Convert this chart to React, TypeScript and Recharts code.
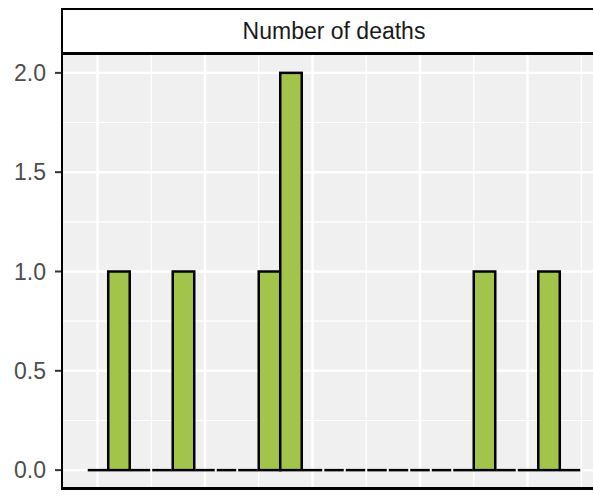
import { ComposedChart, Bar, XAxis, YAxis, CartesianGrid } from 'recharts'

// histogram bins (index along the x scale) and counts per bin
const bins = [0, 1, 2, 3, 4, 5, 6, 7, 8, 9, 10, 11, 12, 13, 14, 15, 16, 17, 18, 19, 20, 21, 22]
const deaths = [0, 1, 0, 0, 1, 0, 0, 0, 1, 2, 0, 0, 0, 0, 0, 0, 0, 0, 1, 0, 0, 1, 0]

const yTicks = [0, 0.5, 1, 1.5, 2]
const yMinor = [0.25, 0.75, 1.25, 1.75]
const xMajor = [0, 5, 10, 15, 20]
const xMinor = [2.5, 7.5, 12.5, 17.5, 22.5]

const data = bins.map((b, i) => ({ bin: b, deaths: deaths[i] }))

const FONT = '"Liberation Sans", Arial, sans-serif'
const FILL = '#A3C44A'

const BinShape = (props: any) => {
  const { x, y, width, height } = props
  if (!height) {
    return <line x1={x + 1} x2={x + width - 1} y1={y} y2={y} stroke="#000" strokeWidth={2.5} />
  }
  return <rect x={x} y={y} width={width} height={height} fill={FILL} stroke="#000" strokeWidth={2.5} />
}

export default function App() {
  return (
    <div style={{ position: 'relative', width: 593, height: 497, overflow: 'hidden', background: '#fff' }}>
      <style>{'body{margin:0;overflow:hidden}'}</style>
      <ComposedChart width={640} height={497} data={data}
        margin={{ top: 53, right: 34, bottom: 7, left: 0 }}>
        <CartesianGrid fill="#F0F0F0" stroke="#fff" strokeWidth={1.2}
          horizontalValues={yMinor} verticalValues={xMinor} />
        <CartesianGrid stroke="#fff" strokeWidth={2.4}
          horizontalValues={yTicks} verticalValues={xMajor} />
        <XAxis type="number" dataKey="bin" domain={[-1.65, 23.65]} hide allowDataOverflow />
        <YAxis type="number" domain={[-0.1, 2.1]} ticks={yTicks} width={62}
          allowDataOverflow axisLine={false}
          tickLine={{ stroke: '#333', strokeWidth: 2 }} tickSize={7} tickMargin={9}
          tickFormatter={(v: number) => v.toFixed(1)}
          tick={{ fill: '#4D4D4D', fontSize: 23, fontFamily: FONT }} />
        <Bar dataKey="deaths" barSize={21.5} shape={BinShape} isAnimationActive={false} />
      </ComposedChart>
      <div style={{
        position: 'absolute', left: 61, top: 8, width: 546, height: 46, boxSizing: 'border-box',
        border: '2.5px solid #000', background: '#fff', display: 'flex', alignItems: 'center',
        justifyContent: 'center', fontFamily: FONT, fontSize: 23, color: '#1A1A1A'
      }}>Number of deaths</div>
      <div style={{
        position: 'absolute', left: 61, top: 53, width: 546, height: 437, boxSizing: 'border-box',
        borderLeft: '2.5px solid #000', borderBottom: '3px solid #000', borderTop: '2px solid #000',
        pointerEvents: 'none'
      }} />
    </div>
  )
}
